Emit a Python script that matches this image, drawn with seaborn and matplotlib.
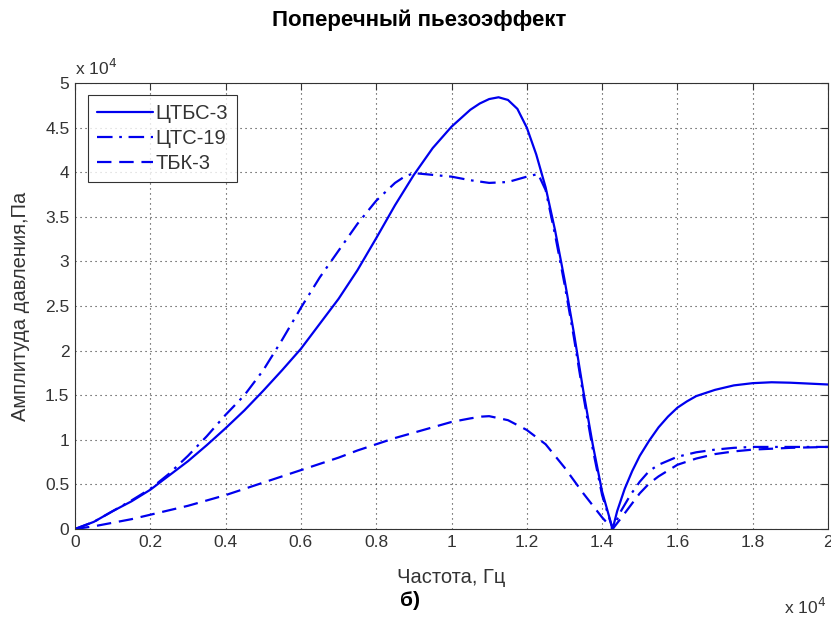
import numpy as np
import pandas as pd
import seaborn as sns
import matplotlib
matplotlib.use("Agg")
import matplotlib.pyplot as plt
from matplotlib.ticker import FuncFormatter

# Frequency grid (units of 1e4 Hz) and pressure amplitude (units of 1e4 Pa)
freq_ctbs3 = [0, 0.05, 0.1, 0.15, 0.2, 0.25, 0.3, 0.35, 0.4, 0.45, 0.5, 0.55, 0.6,
              0.65, 0.7, 0.75, 0.8, 0.85, 0.9, 0.95, 1.0, 1.05, 1.075, 1.1, 1.125,
              1.15, 1.175, 1.2, 1.225, 1.25, 1.275, 1.3, 1.325, 1.35, 1.375, 1.4,
              1.428, 1.44, 1.46, 1.48, 1.5, 1.525, 1.55, 1.575, 1.6, 1.625, 1.65,
              1.7, 1.75, 1.8, 1.85, 1.9, 1.95, 2.0]
amp_ctbs3 = [0, 0.08, 0.2, 0.31, 0.44, 0.6, 0.76, 0.94, 1.13, 1.33, 1.55, 1.78, 2.02,
             2.3, 2.58, 2.9, 3.26, 3.63, 3.97, 4.27, 4.51, 4.7, 4.77, 4.82, 4.84,
             4.81, 4.71, 4.5, 4.2, 3.83, 3.35, 2.8, 2.2, 1.55, 0.95, 0.42,
             0.0, 0.2, 0.45, 0.65, 0.82, 0.99, 1.14, 1.26, 1.36, 1.43, 1.49,
             1.56, 1.61, 1.635, 1.645, 1.64, 1.63, 1.62]

freq_cts19 = [0, 0.05, 0.1, 0.15, 0.2, 0.25, 0.3, 0.35, 0.4, 0.45, 0.5, 0.55, 0.6,
              0.65, 0.7, 0.75, 0.8, 0.85, 0.875, 0.9, 0.95, 1.0, 1.05, 1.1, 1.15,
              1.2, 1.23, 1.25, 1.275, 1.3, 1.325, 1.35, 1.375, 1.4, 1.428,
              1.45, 1.475, 1.5, 1.525, 1.55, 1.6, 1.65, 1.7, 1.75, 1.8, 1.9, 2.0]
amp_cts19 = [0, 0.08, 0.2, 0.32, 0.45, 0.62, 0.82, 1.04, 1.28, 1.5, 1.78, 2.12, 2.48,
             2.82, 3.12, 3.42, 3.68, 3.88, 3.95, 3.99, 3.97, 3.95, 3.91, 3.88, 3.89,
             3.95, 3.98, 3.8, 3.3, 2.75, 2.15, 1.5, 0.9, 0.38, 0.0,
             0.2, 0.38, 0.53, 0.65, 0.72, 0.81, 0.86, 0.89, 0.91, 0.92, 0.92, 0.92]

freq_tbk3 = [0, 0.05, 0.1, 0.15, 0.2, 0.25, 0.3, 0.35, 0.4, 0.45, 0.5, 0.55, 0.6,
             0.65, 0.7, 0.75, 0.8, 0.85, 0.9, 0.95, 1.0, 1.05, 1.08, 1.1, 1.15,
             1.2, 1.25, 1.3, 1.35, 1.4, 1.428,
             1.45, 1.475, 1.5, 1.525, 1.55, 1.6, 1.65, 1.7, 1.75, 1.8, 1.9, 2.0]
amp_tbk3 = [0, 0.03, 0.07, 0.11, 0.16, 0.21, 0.26, 0.32, 0.38, 0.45, 0.52, 0.59, 0.66,
            0.73, 0.8, 0.88, 0.95, 1.02, 1.08, 1.14, 1.2, 1.24, 1.26, 1.265, 1.22,
            1.11, 0.95, 0.69, 0.4, 0.13, 0.0,
            0.12, 0.26, 0.4, 0.51, 0.59, 0.72, 0.79, 0.84, 0.87, 0.89, 0.91, 0.92]

series_names = ["ЦТБС-3", "ЦТС-19", "ТБК-3"]
x_ticks = [0, 0.2, 0.4, 0.6, 0.8, 1.0, 1.2, 1.4, 1.6, 1.8, 2.0]
y_ticks = [0, 0.5, 1, 1.5, 2, 2.5, 3, 3.5, 4, 4.5, 5]

SCALE = 1e4
frames = []
for name, f, a in zip(series_names,
                      [freq_ctbs3, freq_cts19, freq_tbk3],
                      [amp_ctbs3, amp_cts19, amp_tbk3]):
    frames.append(pd.DataFrame({"freq": np.array(f) * SCALE,
                                "amp": np.array(a) * SCALE,
                                "material": name}))
df = pd.concat(frames, ignore_index=True)

sns.set_style("white")
plt.rcParams["font.family"] = ["Liberation Sans", "DejaVu Sans"]

fig = plt.figure(figsize=(8.31, 6.28), dpi=100)
ax = fig.add_axes([75 / 831, 99 / 628, 753 / 831, 446 / 628])

blue = "#0000ee"
sns.lineplot(data=df, x="freq", y="amp", hue="material", style="material",
             hue_order=series_names, style_order=series_names,
             palette=[blue, blue, blue],
             dashes={"ЦТБС-3": "", "ЦТС-19": (7, 3, 1.2, 3), "ТБК-3": (6.5, 3.5)},
             linewidth=1.6, sort=False, estimator=None, ax=ax)

ax.set_xlim(0, 2 * SCALE)
ax.set_ylim(0, 5 * SCALE)
ax.set_xticks([t * SCALE for t in x_ticks])
ax.set_yticks([t * SCALE for t in y_ticks])
fmt = FuncFormatter(lambda v, p: f"{v / SCALE:g}")
ax.xaxis.set_major_formatter(fmt)
ax.yaxis.set_major_formatter(fmt)

text_color = "#333333"
ax.tick_params(direction="in", top=True, right=True, length=5, width=0.8,
               color="#333333", labelsize=12.5, labelcolor=text_color, pad=4)
ax.grid(True, linestyle=(0, (1, 3.5)), color="#333333", linewidth=0.8)
for s in ax.spines.values():
    s.set_color("#333333")
    s.set_linewidth(0.8)

ax.set_xlabel("Частота, Гц", fontsize=14.5, color=text_color)
ax.set_ylabel("Амплитуда давления,Па", fontsize=14.5, color=text_color)
ax.xaxis.set_label_coords(0.5, -(568 - 529) / 446)
ax.yaxis.set_label_coords(-(75 - 30) / 753, 0.5)

# Exponent markers for both axes
fig.text(75 / 831, 1 - 75 / 628, r"x 10$^{4}$", fontsize=12.5, color=text_color,
         ha="left", va="baseline")
fig.text(826 / 831, 1 - 614 / 628, r"x 10$^{4}$", fontsize=12.5, color=text_color,
         ha="right", va="baseline")

fig.text(419 / 831, 1 - 20 / 628, "Поперечный пьезоэффект", fontsize=16,
         fontweight="bold", ha="center", va="center", color="black")
fig.text(410 / 831, 1 - 601 / 628, "б)", fontsize=15, fontweight="bold",
         ha="center", va="center", color="black")

leg = ax.legend(loc="upper left", bbox_to_anchor=(13 / 753, 1 - 12 / 446),
                fontsize=14.5, frameon=True, fancybox=False, handlelength=2.8,
                handletextpad=0.1, borderpad=0.45, labelspacing=0.3,
                borderaxespad=0)
leg.get_frame().set_edgecolor("black")
leg.get_frame().set_linewidth(0.8)
for t in leg.get_texts():
    t.set_color(text_color)

fig.savefig("out.png", dpi=100)
